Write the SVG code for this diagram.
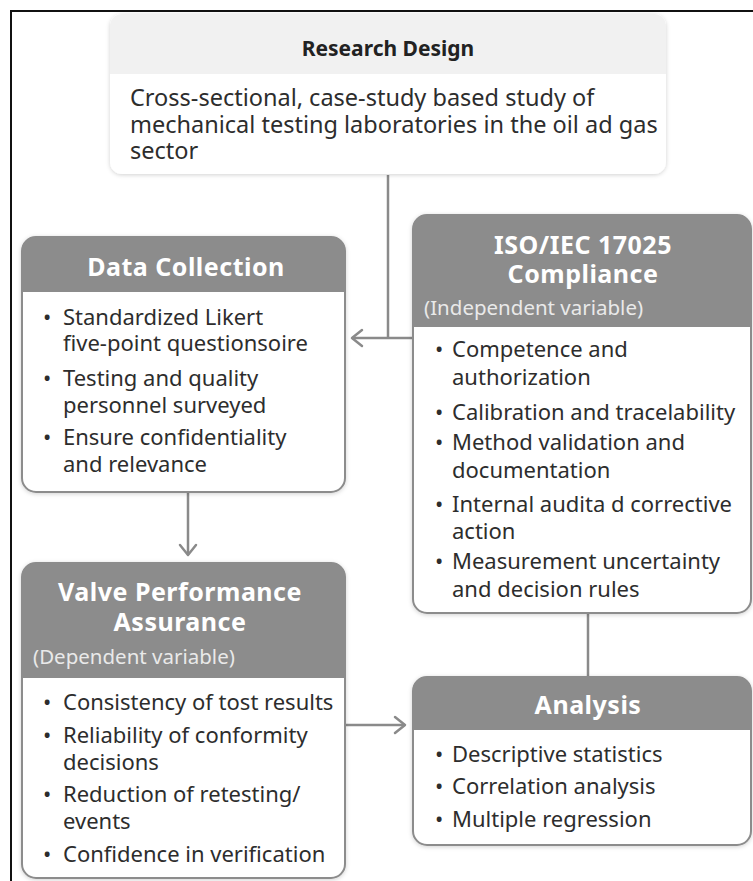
<svg xmlns="http://www.w3.org/2000/svg" width="753" height="881" viewBox="0 0 753 881">
  <defs>
    <filter id="soft" x="-10%" y="-10%" width="120%" height="120%">
      <feDropShadow dx="0" dy="1" stdDeviation="2" flood-color="#000" flood-opacity="0.18"/>
    </filter>
    <marker id="chev" markerUnits="userSpaceOnUse" markerWidth="24" markerHeight="24" viewBox="-12 -12 24 24" refX="0" refY="0" orient="auto">
      <path d="M-10,-8 L0,0 L-10,8" fill="none" stroke="#8a8a8a" stroke-width="2.5" stroke-linecap="round" stroke-linejoin="round"/>
    </marker>
  </defs>
  <style>
    .frame { fill: none; stroke: #111; stroke-width: 2; }
    .box { fill: #fff; stroke: #8c8c8c; stroke-width: 2; }
    .hdr { fill: #8c8c8c; }
    .title { font-family: "Noto Sans", "Open Sans", sans-serif; font-weight: 700; font-size: 25px; letter-spacing: 0.5px; fill: #fff; text-anchor: middle; }
    .sub { font-family: "Noto Sans", "Open Sans", sans-serif; font-size: 20.5px; fill: #e9e9e9; }
    .body { font-family: "Noto Sans", "Open Sans", sans-serif; font-size: 22px; fill: #2d2d2d; }
    .lead { font-family: "Noto Sans", "Open Sans", sans-serif; font-size: 23.5px; fill: #2d2d2d; }
    .conn { fill: none; stroke: #8a8a8a; stroke-width: 2.5; }
  </style>

  <rect width="753" height="881" fill="#fff"/>
  <!-- page frame (top and left edges) -->
  <path class="frame" d="M11,881 V11 H753"/>

  <g id="connectors">
    <path class="conn" d="M388,175 V338"/>
    <path class="conn" d="M413,338 H352" marker-end="url(#chev)"/>
    <path class="conn" d="M188,492 V555" marker-end="url(#chev)"/>
    <path class="conn" d="M588,613 V677"/>
    <path class="conn" d="M345,725 H405" marker-end="url(#chev)"/>
  </g>

  <g id="research-design">
    <rect x="110" y="14" width="556" height="160" rx="12" fill="#fff" filter="url(#soft)"/>
    <path d="M110,74 V26 A12,12 0 0 1 122,14 H654 A12,12 0 0 1 666,26 V74 Z" fill="#f1f1f1"/>
    <text x="388" y="56" font-family="Noto Sans, Open Sans, sans-serif" font-weight="700" font-size="21" fill="#222" text-anchor="middle">Research Design</text>
    <text class="lead" x="130" y="106">Cross-sectional, case-study based study of</text>
    <text class="lead" x="130" y="133">mechanical testing laboratories in the oil ad gas</text>
    <text class="lead" x="130" y="159">sector</text>
  </g>

  <g id="data-collection">
    <rect class="box" x="22" y="237" width="323" height="255" rx="14" filter="url(#soft)"/>
    <path class="hdr" d="M22,292 V251 A14,14 0 0 1 36,237 H331 A14,14 0 0 1 345,251 V292 Z"/>
    <text class="title" x="186" y="276">Data Collection</text>
    <text class="body" x="43" y="325">•</text><text class="body" x="63" y="325">Standardized Likert</text>
    <text class="body" x="63" y="351">five-point questionsoire</text>
    <text class="body" x="43" y="386">•</text><text class="body" x="63" y="386">Testing and quality</text>
    <text class="body" x="63" y="413">personnel surveyed</text>
    <text class="body" x="43" y="445">•</text><text class="body" x="63" y="445">Ensure confidentiality</text>
    <text class="body" x="63" y="472">and relevance</text>
  </g>

  <g id="iso-compliance">
    <rect class="box" x="413" y="215" width="338" height="398" rx="14" filter="url(#soft)"/>
    <path class="hdr" d="M413,327 V229 A14,14 0 0 1 427,215 H737 A14,14 0 0 1 751,229 V327 Z"/>
    <text class="title" x="583" y="254">ISO/IEC 17025</text>
    <text class="title" x="583" y="283">Compliance</text>
    <text class="sub" x="424" y="315">(Independent variable)</text>
    <text class="body" x="435" y="357">•</text><text class="body" x="452" y="357">Competence and</text>
    <text class="body" x="452" y="385">authorization</text>
    <text class="body" x="435" y="420">•</text><text class="body" x="452" y="420">Calibration and tracelability</text>
    <text class="body" x="435" y="450">•</text><text class="body" x="452" y="450">Method validation and</text>
    <text class="body" x="452" y="478">documentation</text>
    <text class="body" x="435" y="512">•</text><text class="body" x="452" y="512">Internal audita d corrective</text>
    <text class="body" x="452" y="539">action</text>
    <text class="body" x="435" y="569">•</text><text class="body" x="452" y="569">Measurement uncertainty</text>
    <text class="body" x="452" y="597">and decision rules</text>
  </g>

  <g id="valve-performance">
    <rect class="box" x="22" y="563" width="323" height="315" rx="14" filter="url(#soft)"/>
    <path class="hdr" d="M22,678 V577 A14,14 0 0 1 36,563 H331 A14,14 0 0 1 345,577 V678 Z"/>
    <text class="title" x="180" y="601">Valve Performance</text>
    <text class="title" x="180" y="631">Assurance</text>
    <text class="sub" x="33" y="664">(Dependent variable)</text>
    <text class="body" x="43" y="710">•</text><text class="body" x="63" y="710">Consistency of tost results</text>
    <text class="body" x="43" y="743">•</text><text class="body" x="63" y="743">Reliability of conformity</text>
    <text class="body" x="63" y="770">decisions</text>
    <text class="body" x="43" y="802">•</text><text class="body" x="63" y="802">Reduction of retesting/</text>
    <text class="body" x="63" y="829">events</text>
    <text class="body" x="43" y="862">•</text><text class="body" x="63" y="862">Confidence in verification</text>
  </g>

  <g id="analysis">
    <rect class="box" x="413" y="677" width="338" height="168" rx="14" filter="url(#soft)"/>
    <path class="hdr" d="M413,730 V691 A14,14 0 0 1 427,677 H737 A14,14 0 0 1 751,691 V730 Z"/>
    <text class="title" x="588" y="714">Analysis</text>
    <text class="body" x="435" y="762">•</text><text class="body" x="452" y="762">Descriptive statistics</text>
    <text class="body" x="435" y="794">•</text><text class="body" x="452" y="794">Correlation analysis</text>
    <text class="body" x="435" y="827">•</text><text class="body" x="452" y="827">Multiple regression</text>
  </g>
</svg>
